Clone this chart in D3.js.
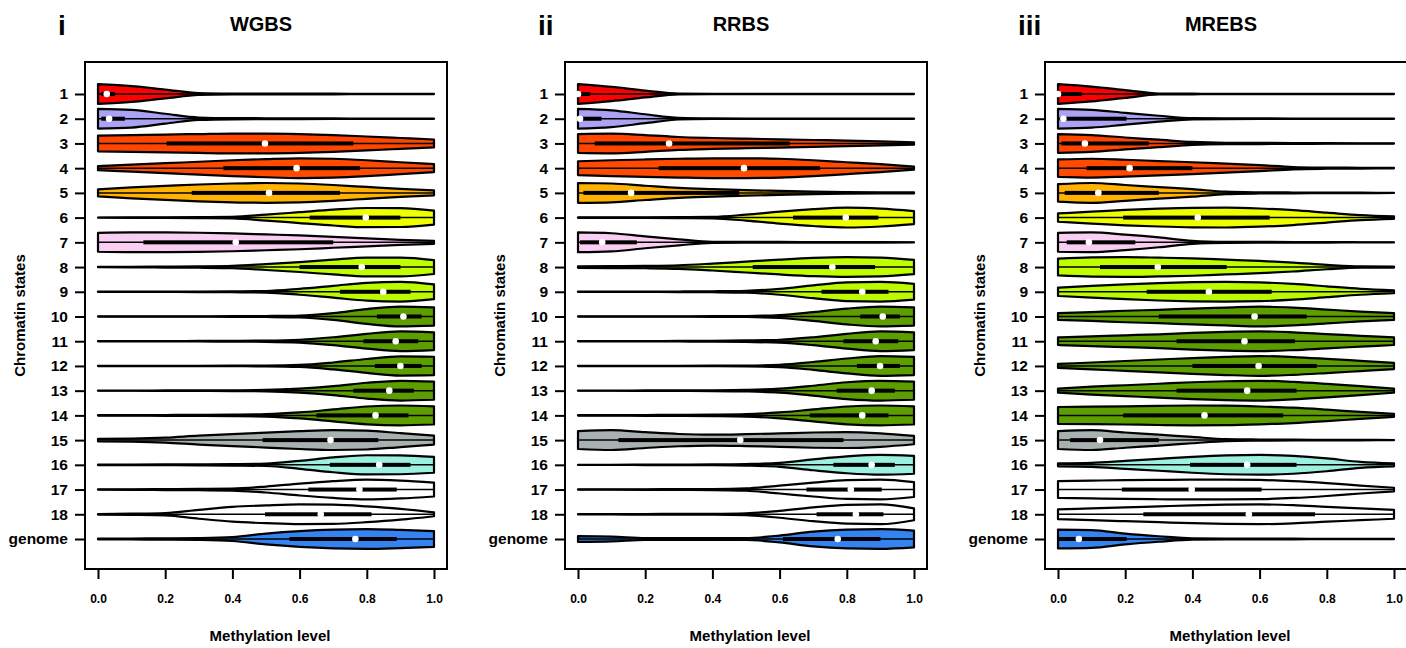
<!DOCTYPE html>
<html>
<head>
<meta charset="utf-8">
<script src="https://cdn.jsdelivr.net/npm/d3@7"></script>
<style>
  body { margin: 0; background: #fff; }
  svg { display: block; }
  text { font-family: "Liberation Sans", Arial, sans-serif; font-weight: bold; fill: #000; }
</style>
</head>
<body>
<div id="chart"></div>
<script>
const width = 1406;
const height = 648;

const panelLetters = ["i", "ii", "iii"];
const panelTitles = ["WGBS", "RRBS", "MREBS"];
const stateLabels = ["1", "2", "3", "4", "5", "6", "7", "8", "9", "10", "11", "12", "13", "14", "15", "16", "17", "18", "genome"];
const stateColors = [
  "#ff0000", "#aaa2f2", "#ff4500", "#ff4a00", "#ffb300", "#eeff00", "#facdf2",
  "#bfff00", "#bbfa00", "#5c9e00", "#5c9e00", "#5c9e00", "#5c9e00", "#5c9e00",
  "#a8b0b0", "#9cf0e0", "#ffffff", "#ffffff", "#3483f0"
];
const xTicks = [0, 0.2, 0.4, 0.6, 0.8, 1.0];
// methylation levels where the violin widths were read
const densityGrid = [0, 0.1, 0.2, 0.3, 0.4, 0.5, 0.6, 0.7, 0.8, 0.9, 1.0];

// relative violin half-widths (1 = widest) at densityGrid
const wgbsDensity = [
  [1.0, 0.8, 0.45, 0.1, 0.05, 0.04, 0.04, 0.03, 0.02, 0.01, 0.01],
  [1.0, 0.9, 0.5, 0.12, 0.06, 0.05, 0.04, 0.03, 0.02, 0.01, 0.01],
  [0.8, 0.85, 0.9, 0.95, 1.0, 1.0, 0.95, 0.85, 0.7, 0.55, 0.4],
  [0.2, 0.35, 0.5, 0.65, 0.8, 0.92, 1.0, 0.95, 0.8, 0.6, 0.4],
  [0.35, 0.55, 0.7, 0.85, 0.95, 1.0, 0.95, 0.8, 0.6, 0.4, 0.25],
  [0.01, 0.02, 0.03, 0.05, 0.08, 0.3, 0.55, 0.8, 0.97, 0.95, 0.7],
  [0.95, 1.0, 1.0, 0.97, 0.9, 0.8, 0.7, 0.55, 0.4, 0.25, 0.15],
  [0.02, 0.03, 0.05, 0.07, 0.12, 0.3, 0.5, 0.75, 0.95, 0.95, 0.7],
  [0.01, 0.01, 0.02, 0.03, 0.05, 0.08, 0.3, 0.6, 0.9, 1.0, 0.75],
  [0.01, 0.01, 0.01, 0.02, 0.03, 0.05, 0.1, 0.35, 0.75, 1.0, 0.93],
  [0.01, 0.01, 0.01, 0.03, 0.04, 0.06, 0.15, 0.4, 0.75, 1.0, 0.9],
  [0.01, 0.01, 0.01, 0.02, 0.03, 0.04, 0.1, 0.35, 0.7, 0.97, 0.93],
  [0.01, 0.01, 0.02, 0.03, 0.04, 0.07, 0.2, 0.45, 0.8, 1.0, 0.92],
  [0.02, 0.03, 0.04, 0.05, 0.07, 0.12, 0.3, 0.6, 0.9, 1.0, 0.92],
  [0.12, 0.15, 0.25, 0.45, 0.6, 0.75, 0.9, 1.0, 0.95, 0.7, 0.45],
  [0.02, 0.03, 0.04, 0.05, 0.07, 0.12, 0.4, 0.75, 0.97, 0.95, 0.8],
  [0.02, 0.03, 0.05, 0.07, 0.1, 0.3, 0.6, 0.85, 1.0, 0.9, 0.7],
  [0.03, 0.06, 0.12, 0.45, 0.75, 0.9, 1.0, 0.97, 0.8, 0.55, 0.2],
  [0.03, 0.05, 0.06, 0.09, 0.2, 0.55, 0.8, 0.95, 1.0, 0.92, 0.8]
];
// [lower quartile, median, upper quartile]
const wgbsBox = [
  [0.01, 0.026, 0.05], [0.01, 0.033, 0.08], [0.204, 0.497, 0.76], [0.373, 0.591, 0.78],
  [0.279, 0.509, 0.72], [0.63, 0.797, 0.9], [0.135, 0.41, 0.70], [0.60, 0.785, 0.90],
  [0.72, 0.849, 0.93], [0.83, 0.909, 0.963], [0.79, 0.886, 0.953], [0.824, 0.90, 0.963],
  [0.76, 0.867, 0.94], [0.65, 0.826, 0.924], [0.49, 0.692, 0.834], [0.69, 0.837, 0.93],
  [0.626, 0.778, 0.889], [0.497, 0.663, 0.814], [0.57, 0.766, 0.889]
];

const rrbsDensity = [
  [1.0, 0.72, 0.35, 0.04, 0.02, 0.02, 0.01, 0.01, 0.01, 0.01, 0.01],
  [1.0, 0.85, 0.45, 0.08, 0.03, 0.02, 0.02, 0.01, 0.01, 0.01, 0.01],
  [0.95, 1.0, 0.85, 0.65, 0.55, 0.48, 0.42, 0.35, 0.28, 0.2, 0.12],
  [0.7, 0.8, 0.88, 0.95, 1.0, 1.0, 0.95, 0.8, 0.6, 0.4, 0.15],
  [1.0, 0.95, 0.72, 0.5, 0.38, 0.28, 0.2, 0.12, 0.08, 0.06, 0.06],
  [0.02, 0.02, 0.03, 0.05, 0.08, 0.3, 0.6, 0.85, 1.0, 0.9, 0.65],
  [1.0, 0.92, 0.6, 0.3, 0.06, 0.04, 0.04, 0.03, 0.02, 0.02, 0.01],
  [0.08, 0.1, 0.12, 0.18, 0.35, 0.55, 0.75, 0.92, 1.0, 0.95, 0.72],
  [0.01, 0.01, 0.02, 0.03, 0.05, 0.1, 0.3, 0.65, 0.95, 1.0, 0.8],
  [0.01, 0.01, 0.01, 0.02, 0.03, 0.05, 0.15, 0.45, 0.8, 1.0, 0.92],
  [0.01, 0.01, 0.02, 0.03, 0.04, 0.08, 0.15, 0.4, 0.75, 1.0, 0.9],
  [0.01, 0.01, 0.01, 0.02, 0.03, 0.04, 0.12, 0.4, 0.75, 1.0, 0.92],
  [0.01, 0.01, 0.02, 0.03, 0.04, 0.08, 0.2, 0.5, 0.85, 1.0, 0.92],
  [0.02, 0.03, 0.04, 0.05, 0.07, 0.12, 0.3, 0.6, 0.9, 1.0, 0.92],
  [0.9, 1.0, 0.8, 0.62, 0.55, 0.6, 0.68, 0.77, 0.8, 0.68, 0.42],
  [0.01, 0.01, 0.02, 0.03, 0.04, 0.08, 0.2, 0.55, 0.85, 1.0, 0.9],
  [0.01, 0.02, 0.03, 0.04, 0.05, 0.12, 0.4, 0.7, 0.95, 1.0, 0.75],
  [0.01, 0.02, 0.03, 0.04, 0.05, 0.1, 0.35, 0.7, 0.95, 1.0, 0.6],
  [0.3, 0.25, 0.1, 0.08, 0.08, 0.1, 0.35, 0.75, 0.95, 1.0, 0.85]
];
const rrbsBox = [
  [0.0, 0.0, 0.036], [0.0, 0.006, 0.07], [0.05, 0.271, 0.63], [0.24, 0.494, 0.72],
  [0.016, 0.158, 0.48], [0.64, 0.797, 0.894], [0.006, 0.072, 0.175], [0.52, 0.757, 0.884],
  [0.725, 0.846, 0.924], [0.84, 0.907, 0.958], [0.79, 0.886, 0.953], [0.83, 0.899, 0.958],
  [0.77, 0.874, 0.943], [0.69, 0.846, 0.924], [0.12, 0.483, 0.79], [0.76, 0.874, 0.943],
  [0.68, 0.812, 0.904], [0.71, 0.827, 0.909], [0.61, 0.773, 0.9]
];

const mrebsDensity = [
  [1.0, 0.75, 0.4, 0.05, 0.03, 0.02, 0.02, 0.01, 0.01, 0.01, 0.01],
  [1.0, 0.9, 0.6, 0.3, 0.06, 0.04, 0.03, 0.02, 0.01, 0.01, 0.01],
  [0.95, 0.85, 0.6, 0.38, 0.15, 0.07, 0.06, 0.04, 0.03, 0.02, 0.01],
  [0.88, 0.95, 0.85, 0.72, 0.6, 0.45, 0.3, 0.12, 0.06, 0.04, 0.02],
  [0.88, 1.0, 0.8, 0.58, 0.38, 0.12, 0.06, 0.04, 0.03, 0.02, 0.01],
  [0.42, 0.6, 0.78, 0.9, 0.98, 1.0, 0.92, 0.75, 0.5, 0.25, 0.12],
  [0.95, 1.0, 0.78, 0.5, 0.15, 0.05, 0.04, 0.03, 0.02, 0.01, 0.01],
  [0.85, 0.97, 1.0, 0.95, 0.88, 0.75, 0.62, 0.45, 0.22, 0.06, 0.05],
  [0.42, 0.6, 0.75, 0.88, 0.97, 1.0, 0.95, 0.8, 0.55, 0.3, 0.15],
  [0.35, 0.45, 0.58, 0.68, 0.8, 0.9, 1.0, 0.9, 0.7, 0.5, 0.35],
  [0.38, 0.5, 0.6, 0.7, 0.85, 0.95, 1.0, 0.9, 0.72, 0.55, 0.38],
  [0.2, 0.35, 0.5, 0.65, 0.8, 0.92, 1.0, 0.9, 0.72, 0.52, 0.32],
  [0.2, 0.4, 0.55, 0.7, 0.85, 0.95, 1.0, 0.88, 0.68, 0.45, 0.2],
  [0.85, 0.88, 0.92, 0.97, 1.0, 0.98, 0.9, 0.78, 0.58, 0.35, 0.15],
  [0.9, 1.0, 0.77, 0.55, 0.32, 0.1, 0.06, 0.04, 0.03, 0.02, 0.01],
  [0.15, 0.2, 0.4, 0.6, 0.8, 0.95, 1.0, 0.9, 0.65, 0.3, 0.15],
  [0.85, 0.9, 0.95, 0.98, 1.0, 1.0, 0.97, 0.85, 0.65, 0.4, 0.18],
  [0.5, 0.6, 0.7, 0.8, 0.9, 0.97, 1.0, 0.92, 0.75, 0.6, 0.45],
  [0.95, 0.9, 0.55, 0.28, 0.07, 0.05, 0.04, 0.03, 0.02, 0.01, 0.01]
];
const mrebsBox = [
  [0.0, 0.0, 0.07], [0.005, 0.016, 0.204], [0.01, 0.08, 0.27], [0.085, 0.213, 0.40],
  [0.02, 0.12, 0.30], [0.194, 0.416, 0.63], [0.026, 0.092, 0.23], [0.125, 0.297, 0.502],
  [0.264, 0.449, 0.636], [0.30, 0.585, 0.74], [0.353, 0.555, 0.705], [0.40, 0.597, 0.77],
  [0.353, 0.563, 0.71], [0.194, 0.436, 0.67], [0.036, 0.125, 0.30], [0.393, 0.563, 0.71],
  [0.19, 0.398, 0.606], [0.254, 0.568, 0.765], [0.0, 0.062, 0.204]
];

const panelDensity = [wgbsDensity, rrbsDensity, mrebsDensity];
const panelBox = [wgbsBox, rrbsBox, mrebsBox];

const svg = d3.select("#chart")
  .append("svg")
  .attr("width", width)
  .attr("height", height);

const panelStep = 480;
const plot = { left: 85, right: 447, top: 62, bottom: 569 };

panelTitles.forEach((title, p) => {
  const off = p * panelStep;
  const g = svg.append("g");

  const x = d3.scaleLinear().domain([0, 1]).range([98 + off, 434 + off]);
  const y = d3.scalePoint().domain(stateLabels).range([94, 539]);
  const hmax = 0.4 * y.step();

  // violins, in vioplot order: polygon, whisker, box, median
  stateLabels.forEach((label, i) => {
    const cy = y(label);
    const pts = densityGrid.map((v, k) => ({ v, w: panelDensity[p][i][k] }));
    const area = d3.area()
      .x((d) => x(d.v))
      .y0((d) => cy - d.w * hmax)
      .y1((d) => cy + d.w * hmax)
      .curve(d3.curveMonotoneX);

    g.append("path")
      .attr("d", area(pts))
      .attr("fill", stateColors[i])
      .attr("stroke", "#000")
      .attr("stroke-width", 2.2)
      .attr("stroke-linejoin", "round");

    const [q1, med, q3] = panelBox[p][i];
    g.append("line")
      .attr("x1", x(0)).attr("x2", x(1))
      .attr("y1", cy).attr("y2", cy)
      .attr("stroke", "#000")
      .attr("stroke-width", 1.5);
    g.append("rect")
      .attr("x", x(q1))
      .attr("y", cy - 2)
      .attr("width", Math.max(x(q3) - x(q1), 1))
      .attr("height", 4)
      .attr("fill", "#000");
    g.append("circle")
      .attr("cx", x(med))
      .attr("cy", cy)
      .attr("r", 3.3)
      .attr("fill", "#fff");
  });

  // frame
  g.append("rect")
    .attr("x", plot.left + off)
    .attr("y", plot.top)
    .attr("width", plot.right - plot.left)
    .attr("height", plot.bottom - plot.top)
    .attr("fill", "none")
    .attr("stroke", "#000")
    .attr("stroke-width", 2);

  const xAxis = g.append("g")
    .attr("transform", `translate(0,${plot.bottom + 1})`)
    .call(d3.axisBottom(x).tickValues(xTicks).tickFormat(d3.format(".1f")).tickSize(9).tickPadding(15));
  xAxis.select(".domain").remove();
  xAxis.selectAll("line").attr("stroke-width", 2);
  xAxis.selectAll("text").style("font-size", "12px").style("font-family", null);

  const yAxis = g.append("g")
    .attr("transform", `translate(${plot.left + off},0)`)
    .call(d3.axisLeft(y).tickSize(10).tickPadding(7));
  yAxis.select(".domain").remove();
  yAxis.selectAll("line").attr("stroke-width", 2);
  yAxis.selectAll("text").style("font-size", "15.5px").style("font-family", null);

  g.append("text")
    .attr("x", 58 + off)
    .attr("y", 35)
    .style("font-size", "28px")
    .text(panelLetters[p]);

  g.append("text")
    .attr("x", 261 + off)
    .attr("y", 31)
    .attr("text-anchor", "middle")
    .style("font-size", "20px")
    .text(title);

  g.append("text")
    .attr("x", 270 + off)
    .attr("y", 641)
    .attr("text-anchor", "middle")
    .style("font-size", "15px")
    .text("Methylation level");

  g.append("text")
    .attr("transform", `translate(${20 + off},${(plot.top + plot.bottom) / 2}) rotate(-90)`)
    .attr("text-anchor", "middle")
    .attr("dy", "0.35em")
    .style("font-size", "15px")
    .text("Chromatin states");
});
</script>
</body>
</html>
